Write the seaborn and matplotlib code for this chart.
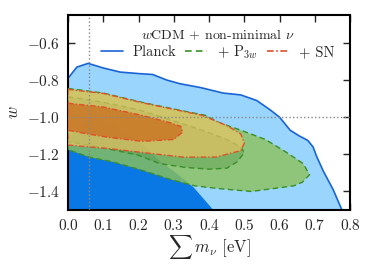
import matplotlib
matplotlib.use("Agg")
import matplotlib.pyplot as plt
import seaborn as sns
import pandas as pd

# contour boundaries (sum m_nu [eV], w)
planck95_x = [0.0, 0.025, 0.057, 0.1, 0.148, 0.2, 0.24, 0.28, 0.318, 0.375, 0.44, 0.49,
              0.535, 0.573, 0.60, 0.63, 0.655, 0.68, 0.695, 0.706, 0.724, 0.752, 0.777]
planck95_y = [-0.79, -0.73, -0.71, -0.735, -0.757, -0.765, -0.77, -0.80, -0.82, -0.84, -0.87, -0.88,
              -0.91, -0.96, -1.0, -1.07, -1.10, -1.125, -1.16, -1.215, -1.29, -1.39, -1.50]
planck68_x = [0.0, 0.023, 0.04, 0.06, 0.09, 0.116, 0.165, 0.21, 0.26, 0.31, 0.355, 0.41]
planck68_y = [-1.13, -1.07, -1.03, -1.01, -1.015, -1.03, -1.08, -1.15, -1.24, -1.31, -1.38, -1.50]

p3w95_x = [0.0, 0.1, 0.21, 0.31, 0.39, 0.43, 0.49, 0.56, 0.62, 0.667, 0.685,
           0.665, 0.64, 0.58, 0.52, 0.43, 0.36, 0.29, 0.2, 0.125, 0.06, 0.0]
p3w95_y = [-0.845, -0.87, -0.92, -0.96, -0.99, -1.03, -1.07, -1.12, -1.19, -1.25, -1.31,
           -1.35, -1.37, -1.385, -1.40, -1.385, -1.37, -1.335, -1.28, -1.24, -1.215, -1.175]
p3w68_x = [0.0, 0.1, 0.2, 0.3, 0.38, 0.45, 0.49, 0.50,
           0.48, 0.45, 0.40, 0.33, 0.26, 0.2, 0.1, 0.0]
p3w68_y = [-0.89, -0.92, -0.96, -1.02, -1.07, -1.12, -1.16, -1.19,
           -1.24, -1.275, -1.28, -1.27, -1.25, -1.205, -1.165, -1.13]

sn95_x = [0.0, 0.1, 0.21, 0.31, 0.38, 0.45, 0.49, 0.50,
          0.49, 0.46, 0.42, 0.326, 0.234, 0.12, 0.0]
sn95_y = [-0.85, -0.872, -0.922, -0.962, -0.99, -1.045, -1.09, -1.14,
          -1.18, -1.195, -1.215, -1.215, -1.195, -1.17, -1.15]
sn68_x = [0.0, 0.1, 0.21, 0.29, 0.32, 0.325, 0.30, 0.21, 0.12, 0.054, 0.0]
sn68_y = [-0.925, -0.945, -0.99, -1.03, -1.05, -1.08, -1.12, -1.13, -1.11, -1.09, -1.07]

sns.set_style("ticks")
plt.rcParams["font.family"] = "cmr10"
plt.rcParams["mathtext.fontset"] = "cm"
plt.rcParams["axes.formatter.use_mathtext"] = True

fig = plt.figure(figsize=(3.74, 2.65), dpi=100)
ax = fig.add_axes([0.182, 0.2075, 0.754, 0.7355])

blue_line = "#1a64d6"
green_line = "#3a8f28"
red_line = "#e0502a"
dash = (0, (4, 2.5))
dashdot = (0, (4, 1.5, 1, 1.5))


def region(xs, ys, face, alpha, line, ls, lw, z, open_bottom=False):
    fx, fy = list(xs), list(ys)
    if open_bottom:
        fx = fx + [fx[-1], 0.0]
        fy = fy + [-1.6, -1.6]
    ax.fill(fx, fy, color=face, alpha=alpha, lw=0, zorder=z)
    if open_bottom:
        lx, ly = list(xs), list(ys)
    else:
        lx, ly = list(xs) + [xs[0]], list(ys) + [ys[0]]
    df = pd.DataFrame({"x": lx, "y": ly})
    sns.lineplot(data=df, x="x", y="y", sort=False, estimator=None, ax=ax,
                 color=line, lw=lw, linestyle=ls, zorder=z + 0.5)


region(planck95_x, planck95_y, "#99d5fc", 1.0, blue_line, "-", 1.2, 1, open_bottom=True)
region(planck68_x, planck68_y, "#0a78e4", 1.0, "#0a78e4", "-", 0.8, 2, open_bottom=True)
region(p3w95_x, p3w95_y, "#8cc15a", 0.8, green_line, dash, 1.0, 3)
region(p3w68_x, p3w68_y, "#4f9444", 0.35, green_line, dash, 1.0, 4)
region(sn95_x, sn95_y, "#eec462", 0.68, red_line, dashdot, 1.0, 5)
region(sn68_x, sn68_y, "#cc7020", 0.78, red_line, dashdot, 1.0, 6)

ax.axvline(0.06, color="#888888", ls=":", lw=1.0, zorder=10)
ax.axhline(-1.0, color="#888888", ls=":", lw=1.0, zorder=10)

ax.set_xlim(0.0, 0.8)
ax.set_ylim(-1.5, -0.45)
ax.set_xticks([0.0, 0.1, 0.2, 0.3, 0.4, 0.5, 0.6, 0.7, 0.8])
ax.set_yticks([-1.4, -1.2, -1.0, -0.8, -0.6])
ax.tick_params(direction="in", top=True, right=True, length=5, width=1, labelsize=11, pad=6)
for s in ax.spines.values():
    s.set_linewidth(1.5)
    s.set_color("black")

ax.set_xlabel(r"$\sum\, m_\nu$ [eV]", fontsize=12, labelpad=0)
ax.set_ylabel(r"$w$", fontsize=12, labelpad=4)

handles = [
    plt.Line2D([], [], color=blue_line, lw=1.2),
    plt.Line2D([], [], color=green_line, lw=1.2, ls=dash),
    plt.Line2D([], [], color=red_line, lw=1.2, ls=dashdot),
]
leg = ax.legend(handles, ["Planck", r"+ P$_{3w}$", "+ SN"], ncol=3,
                title=r"$w$CDM + non-minimal $\nu$", frameon=False,
                loc="upper center", bbox_to_anchor=(0.53, 0.99), fontsize=10.5,
                title_fontsize=10, handlelength=1.5, columnspacing=0.6,
                handletextpad=0.7, borderpad=0.2, labelspacing=0.1)
leg.set_zorder(20)

fig.savefig("out.png", dpi=100)
